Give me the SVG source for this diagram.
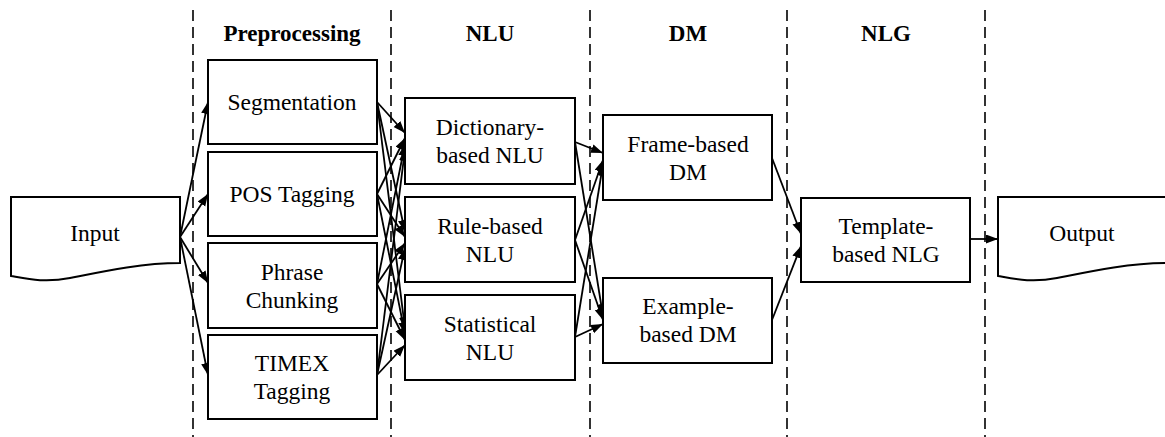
<svg xmlns="http://www.w3.org/2000/svg" width="1165" height="437" viewBox="0 0 1165 437">
<style>
.box{fill:#fff;stroke:#000;stroke-width:2}
.t{font-family:"Liberation Serif","Times New Roman",serif;font-size:23.5px;fill:#000;text-anchor:middle;dominant-baseline:central}
.h{font-family:"Liberation Serif","Times New Roman",serif;font-size:23px;font-weight:bold;fill:#000;text-anchor:middle;dominant-baseline:central}
.dash{stroke:#000;stroke-width:1.6;stroke-dasharray:11,6;fill:none}
.c{stroke:#000;stroke-width:1.8;fill:none;marker-end:url(#ah)}
</style>
<defs>
<marker id="ah" markerUnits="userSpaceOnUse" markerWidth="13" markerHeight="10" refX="12" refY="4.5" orient="auto">
<path d="M0,0 L12,4.5 L0,9 Z" fill="#000"/>
</marker>
</defs>
<rect width="1165" height="437" fill="#fff"/>
<g id="dividers">
<line class="dash" x1="193" y1="10" x2="193" y2="437"/>
<line class="dash" x1="391" y1="10" x2="391" y2="437"/>
<line class="dash" x1="590" y1="10" x2="590" y2="437"/>
<line class="dash" x1="787" y1="10" x2="787" y2="437"/>
<line class="dash" x1="985" y1="10" x2="985" y2="437"/>
</g>
<g id="headers">
<text class="h" x="292" y="33">Preprocessing</text>
<text class="h" x="490" y="33">NLU</text>
<text class="h" x="688" y="33">DM</text>
<text class="h" x="886" y="33">NLG</text>
</g>
<g id="connectors">
<path class="c" d="M180,237 L208,102"/>
<path class="c" d="M180,237 L208,194"/>
<path class="c" d="M180,237 L208,283"/>
<path class="c" d="M180,237 L208,375"/>
<path class="c" d="M377,102 L405,133"/>
<path class="c" d="M377,102 L405,232"/>
<path class="c" d="M377,102 L405,329"/>
<path class="c" d="M377,194 L405,138"/>
<path class="c" d="M377,194 L405,237"/>
<path class="c" d="M377,194 L405,334"/>
<path class="c" d="M377,284 L405,144"/>
<path class="c" d="M377,284 L405,243"/>
<path class="c" d="M377,284 L405,340"/>
<path class="c" d="M377,375 L405,149"/>
<path class="c" d="M377,375 L405,248"/>
<path class="c" d="M377,375 L405,345"/>
<path class="c" d="M575,142 L603,153"/>
<path class="c" d="M575,142 L603,316"/>
<path class="c" d="M575,240 L603,160"/>
<path class="c" d="M575,240 L603,320"/>
<path class="c" d="M575,337 L603,164"/>
<path class="c" d="M575,337 L603,324"/>
<path class="c" d="M772,158 L801,234"/>
<path class="c" d="M772,320 L801,246"/>
<path class="c" d="M970,239 L998,239"/>
</g>
<g id="input">
<path class="box" d="M11,197 H180 V263 C140,263 100,272 70,278 C45,283 28,279 11,276 Z"/>
<text class="t" x="95" y="233">Input</text>
</g>
<g id="segmentation">
<rect class="box" x="208" y="60" width="169" height="84"/>
<text class="t" x="292" y="102">Segmentation</text>
</g>
<g id="pos-tagging">
<rect class="box" x="208" y="152" width="169" height="84"/>
<text class="t" x="292" y="194">POS Tagging</text>
</g>
<g id="phrase-chunking">
<rect class="box" x="208" y="243" width="169" height="85"/>
<text class="t" x="292" y="272">Phrase</text>
<text class="t" x="292" y="300">Chunking</text>
</g>
<g id="timex-tagging">
<rect class="box" x="208" y="335" width="169" height="84"/>
<text class="t" x="292" y="363">TIMEX</text>
<text class="t" x="292" y="391">Tagging</text>
</g>
<g id="dictionary-nlu">
<rect class="box" x="405" y="98" width="170" height="86"/>
<text class="t" x="490" y="127">Dictionary-</text>
<text class="t" x="490" y="155">based NLU</text>
</g>
<g id="rule-nlu">
<rect class="box" x="405" y="197" width="170" height="85"/>
<text class="t" x="490" y="226">Rule-based</text>
<text class="t" x="490" y="254">NLU</text>
</g>
<g id="statistical-nlu">
<rect class="box" x="405" y="295" width="170" height="85"/>
<text class="t" x="490" y="324">Statistical</text>
<text class="t" x="490" y="352">NLU</text>
</g>
<g id="frame-dm">
<rect class="box" x="603" y="115" width="169" height="85"/>
<text class="t" x="688" y="144">Frame-based</text>
<text class="t" x="688" y="172">DM</text>
</g>
<g id="example-dm">
<rect class="box" x="603" y="278" width="169" height="85"/>
<text class="t" x="688" y="306">Example-</text>
<text class="t" x="688" y="334">based DM</text>
</g>
<g id="template-nlg">
<rect class="box" x="801" y="198" width="169" height="84"/>
<text class="t" x="886" y="226">Template-</text>
<text class="t" x="886" y="254">based NLG</text>
</g>
<g id="output">
<path class="box" d="M998,197 H1167 V263 C1127,263 1087,272 1057,278 C1032,283 1015,279 998,276 Z"/>
<text class="t" x="1082" y="233">Output</text>
</g>
</svg>
